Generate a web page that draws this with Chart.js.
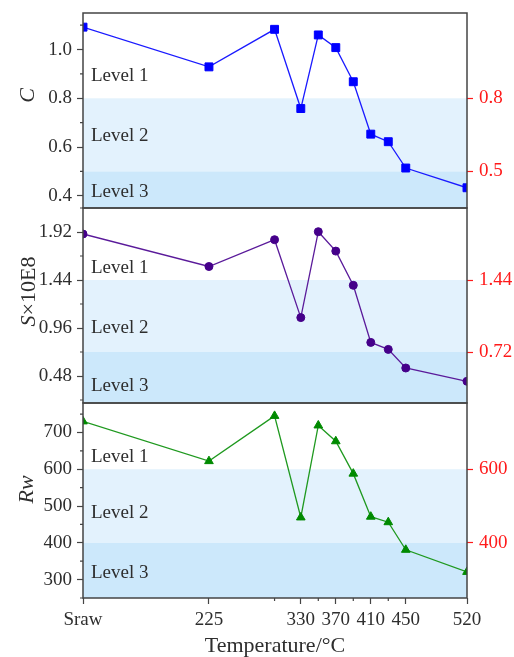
<!DOCTYPE html>
<html>
<head>
<meta charset="utf-8">
<script src="https://cdn.jsdelivr.net/npm/chart.js@4/dist/chart.umd.min.js"></script>
<style>
  html, body { margin: 0; padding: 0; background: #ffffff; }
  #wrap { position: relative; width: 514px; height: 657px; }
  #wrap canvas { position: absolute; left: 0; top: 0; }
</style>
</head>
<body>
<div id="wrap">
  <canvas id="panelC" width="514" height="657"></canvas>
  <canvas id="panelS" width="514" height="657"></canvas>
  <canvas id="panelRw" width="514" height="657"></canvas>
</div>
<script>
// Temperature axis (the raw sample "Sraw" sits left of 225 °C)
const SRAW_X = 81;
const temperatures = [SRAW_X, 225, 300, 330, 350, 370, 390, 410, 430, 450, 520];
const xTickValues = [SRAW_X, 225, 330, 370, 410, 450, 520];
const xTickLabels = ['Sraw', '225', '330', '370', '410', '450', '520'];
const xMinorTicks = [300, 350, 390, 430];

// Measured indices
const cValues  = [1.092, 0.929, 1.083, 0.758, 1.060, 1.008, 0.868, 0.653, 0.622, 0.514, 0.433];
const sValues  = [1.90, 1.575, 1.843, 1.064, 1.923, 1.729, 1.387, 0.816, 0.746, 0.560, 0.427];
const rwValues = [730, 622, 745, 469, 719, 676, 588, 471, 456, 381, 321];

// Axis ticks
const cTicks  = [0.4, 0.6, 0.8, 1.0];
const sTicks  = [0.48, 0.96, 1.44, 1.92];
const rwTicks = [300, 400, 500, 600, 700];
const cMinor  = [0.5, 0.7, 0.9, 1.1];
const sMinor  = [0.24, 0.72, 1.2, 1.68, 2.16];
const rwMinor = [250, 350, 450, 550, 650, 750];

// Level boundaries (Level 1 / Level 2, Level 2 / Level 3)
const cLevels  = [0.8, 0.5];
const sLevels  = [1.44, 0.72];
const rwLevels = [600, 400];
const levelNames = ['Level 1', 'Level 2', 'Level 3'];

const FONT = "'Liberation Serif', 'Times New Roman', serif";
const FRAME = '#444444';
const TEXT = '#2e2e2e';
const BAND2 = '#e3f2fd';
const BAND3 = '#cce8fb';

function decorPlugin(cfg) {
  return {
    id: 'panelDecor',
    beforeDatasetsDraw(chart) {
      const { ctx, chartArea: a } = chart;
      const y = chart.scales.y;
      const y1 = y.getPixelForValue(cfg.levels[0]);
      const y2 = y.getPixelForValue(cfg.levels[1]);
      ctx.save();
      ctx.fillStyle = BAND2;
      ctx.fillRect(a.left, y1, a.right - a.left, y2 - y1);
      ctx.fillStyle = BAND3;
      ctx.fillRect(a.left, y2, a.right - a.left, a.bottom - y2);
      ctx.fillStyle = TEXT;
      ctx.font = '19px ' + FONT;
      ctx.textBaseline = 'middle';
      ctx.textAlign = 'left';
      levelNames.forEach((name, i) => {
        ctx.fillText(name, a.left + 8, y.getPixelForValue(cfg.levelLabelAt[i]));
      });
      ctx.restore();
    },
    afterDraw(chart) {
      const { ctx, chartArea: a } = chart;
      const y = chart.scales.y;
      ctx.save();
      // minor ticks on the left axis
      ctx.strokeStyle = FRAME;
      ctx.lineWidth = 1.2;
      ctx.beginPath();
      cfg.minor.forEach(v => {
        const p = y.getPixelForValue(v);
        ctx.moveTo(a.left - 3, p);
        ctx.lineTo(a.left, p);
      });
      if (cfg.showX) {
        const x = chart.scales.x;
        xMinorTicks.forEach(v => {
          const p = x.getPixelForValue(v);
          ctx.moveTo(p, a.bottom);
          ctx.lineTo(p, a.bottom + 3);
        });
      }
      ctx.stroke();
      // frame
      ctx.lineWidth = 1.5;
      ctx.strokeRect(a.left, a.top, a.right - a.left, a.bottom - a.top);
      // y-axis title
      ctx.translate(cfg.titleX, (a.top + a.bottom) / 2 + cfg.titleShift);
      ctx.rotate(-Math.PI / 2);
      ctx.fillStyle = TEXT;
      ctx.textBaseline = 'middle';
      ctx.textAlign = 'left';
      const fonts = cfg.title.map(p => (p.italic ? 'italic ' : '') + '22px ' + FONT);
      let total = 0;
      const widths = cfg.title.map((p, i) => { ctx.font = fonts[i]; const w = ctx.measureText(p.text).width; total += w; return w; });
      let cx = -total / 2;
      cfg.title.forEach((p, i) => {
        ctx.font = fonts[i];
        ctx.fillText(p.text, cx, 0);
        cx += widths[i];
      });
      ctx.restore();
    }
  };
}

// keep the plot area exactly where the layout padding puts it
function fixVerticalAxis(width) {
  return s => {
    s.width = width;
    s.paddingTop = 0;
    s.paddingBottom = 0;
  };
}

function makePanel(id, cfg) {
  return new Chart(document.getElementById(id), {
    type: 'line',
    data: {
      datasets: [{
        data: temperatures.map((t, i) => ({ x: t, y: cfg.values[i] })),
        borderColor: cfg.lineColor,
        backgroundColor: cfg.markerColor,
        pointBorderColor: cfg.markerColor,
        pointStyle: cfg.pointStyle,
        pointRadius: cfg.pointRadius,
        pointBorderWidth: 1,
        borderWidth: 1.3,
        tension: 0,
        clip: 0
      }]
    },
    options: {
      responsive: false,
      animation: false,
      devicePixelRatio: 1,
      events: [],
      layout: { padding: { top: cfg.padTop, bottom: cfg.padBottom, left: 0, right: 0 } },
      plugins: { legend: { display: false }, tooltip: { enabled: false } },
      scales: {
        x: {
          type: 'linear',
          min: SRAW_X,
          max: 520,
          display: cfg.showX,
          afterFit: s => { if (cfg.showX) s.height = 59; },
          afterBuildTicks: s => { s.ticks = xTickValues.map(v => ({ value: v })); },
          ticks: {
            autoSkip: false,
            maxRotation: 0,
            padding: 5,
            color: TEXT,
            font: { family: FONT, size: 19 },
            callback: (v, i) => xTickLabels[i]
          },
          grid: { drawOnChartArea: false, tickLength: 6, tickColor: FRAME, tickWidth: 1.2 },
          border: { display: false },
          title: {
            display: true,
            text: 'Temperature/°C',
            color: TEXT,
            font: { family: FONT, size: 22, lineHeight: 1 },
            padding: { top: 0, bottom: 0 }
          }
        },
        y: {
          position: 'left',
          min: cfg.min,
          max: cfg.max,
          afterFit: fixVerticalAxis(83),
          afterBuildTicks: s => { s.ticks = cfg.ticks.map(v => ({ value: v })); },
          ticks: {
            padding: 5,
            color: TEXT,
            font: { family: FONT, size: 19 },
            callback: v => cfg.fmt(v)
          },
          grid: { drawOnChartArea: false, tickLength: 6, tickColor: FRAME, tickWidth: 1.2 },
          border: { display: false }
        },
        y2: {
          position: 'right',
          min: cfg.min,
          max: cfg.max,
          afterFit: fixVerticalAxis(47),
          afterBuildTicks: s => { s.ticks = cfg.levels.map(v => ({ value: v })); },
          ticks: {
            padding: 6,
            color: '#ff1a1a',
            font: { family: FONT, size: 19 },
            callback: v => cfg.fmt(v)
          },
          grid: { drawOnChartArea: false, tickLength: 6, tickColor: '#ff1a1a', tickWidth: 1.2 },
          border: { display: false }
        }
      }
    },
    plugins: [decorPlugin(cfg)]
  });
}

makePanel('panelC', {
  values: cValues, min: 0.35, max: 1.15,
  ticks: cTicks, minor: cMinor, levels: cLevels,
  levelLabelAt: [0.89, 0.645, 0.415],
  fmt: v => v.toFixed(1),
  lineColor: '#1a1aff', markerColor: '#0000ff', pointStyle: 'rect', pointRadius: 5.6,
  padTop: 13, padBottom: 449, showX: false,
  title: [{ text: 'C', italic: true }], titleX: 28, titleShift: -15
});

makePanel('panelS', {
  values: sValues, min: 0.21, max: 2.16,
  ticks: sTicks, minor: sMinor, levels: sLevels,
  levelLabelAt: [1.56, 0.96, 0.38],
  fmt: v => v.toFixed(2),
  lineColor: '#5a1a9a', markerColor: '#45008a', pointStyle: 'circle', pointRadius: 4,
  padTop: 208, padBottom: 254, showX: false,
  title: [{ text: 'S', italic: true }, { text: '×10E8', italic: false }], titleX: 29, titleShift: -14
});

makePanel('panelRw', {
  values: rwValues, min: 250, max: 780,
  ticks: rwTicks, minor: rwMinor, levels: rwLevels,
  levelLabelAt: [633, 482, 317],
  fmt: v => String(Math.round(v)),
  lineColor: '#1f991f', markerColor: '#008a00', pointStyle: 'triangle', pointRadius: 5,
  padTop: 403, padBottom: 0, showX: true,
  title: [{ text: 'Rw', italic: true }], titleX: 27, titleShift: -11
});
</script>
</body>
</html>
